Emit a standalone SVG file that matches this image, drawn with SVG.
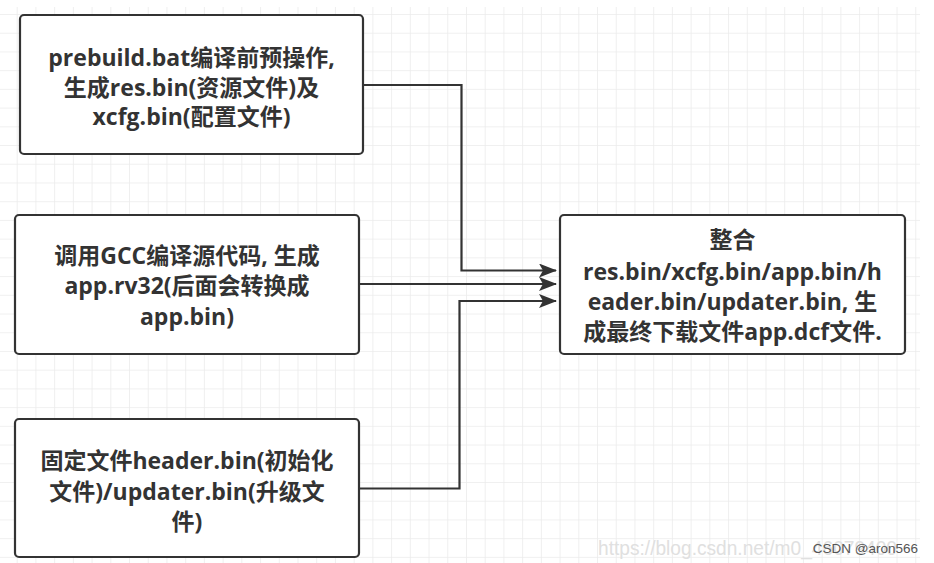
<svg xmlns="http://www.w3.org/2000/svg" width="934" height="563" viewBox="0 0 934 563">
<style>
.box{fill:#ffffff;stroke:#333333;stroke-width:2.2}
.t{font-family:"Open Sans","Noto Sans CJK SC",sans-serif;font-weight:bold;font-size:23px;fill:#333333;text-anchor:middle}
.edge{fill:none;stroke:#333333;stroke-width:2.2}
</style>
<defs>
<pattern id="grid" patternUnits="userSpaceOnUse" x="16.7" y="14" width="18.72" height="18.72">
<path d="M0,0 H18.72 M0,0 V18.72" fill="none" stroke="#ebebeb" stroke-width="1.6"/>
</pattern>
<marker id="arr" viewBox="0 0 18 14" refX="17" refY="7" markerWidth="18" markerHeight="14" markerUnits="userSpaceOnUse" orient="auto">
<path d="M0,0 L18,7 L0,14 L4,7 Z" fill="#333333"/>
</marker>
</defs>
<rect x="0" y="0" width="934" height="563" fill="#ffffff"/>
<rect x="0" y="7" width="920" height="556" fill="url(#grid)"/>
<g id="connectors">
<path class="edge" d="M363,85 H461.5 V270.5 H556" marker-end="url(#arr)"/>
<path class="edge" d="M359,284 H556" marker-end="url(#arr)"/>
<path class="edge" d="M359,488.5 H459.5 V301 H556" marker-end="url(#arr)"/>
</g>
<g id="n1">
<rect class="box" x="20" y="15" width="343" height="139" rx="4"/>
<text class="t" x="191.5" y="66">prebuild.bat编译前预操作,</text>
<text class="t" x="191.5" y="96">生成res.bin(资源文件)及</text>
<text class="t" x="191.5" y="125">xcfg.bin(配置文件)</text>
</g>
<g id="n2">
<rect class="box" x="15" y="215" width="344" height="139" rx="4"/>
<text class="t" x="187" y="264">调用GCC编译源代码, 生成</text>
<text class="t" x="187" y="294">app.rv32(后面会转换成</text>
<text class="t" x="187" y="325">app.bin)</text>
</g>
<g id="n3">
<rect class="box" x="15" y="419" width="344" height="138" rx="4"/>
<text class="t" x="187" y="469">固定文件header.bin(初始化</text>
<text class="t" x="187" y="500">文件)/updater.bin(升级文</text>
<text class="t" x="187" y="530">件)</text>
</g>
<g id="n4">
<rect class="box" x="560" y="215" width="345" height="139" rx="4"/>
<text class="t" x="732.5" y="248">整合</text>
<text class="t" x="732.5" y="280">res.bin/xcfg.bin/app.bin/h</text>
<text class="t" x="732.5" y="310">eader.bin/updater.bin, 生</text>
<text class="t" x="732.5" y="340">成最终下载文件app.dcf文件.</text>
</g>
<text x="598" y="555" font-family="Liberation Sans, sans-serif" font-size="21" fill="#e0e0e0" textLength="299" lengthAdjust="spacingAndGlyphs">https://blog.csdn.net/m0_46079400</text>
<text x="918" y="553" font-family="Liberation Sans, sans-serif" font-size="13.5" fill="#555555" text-anchor="end">CSDN @aron566</text>
</svg>
